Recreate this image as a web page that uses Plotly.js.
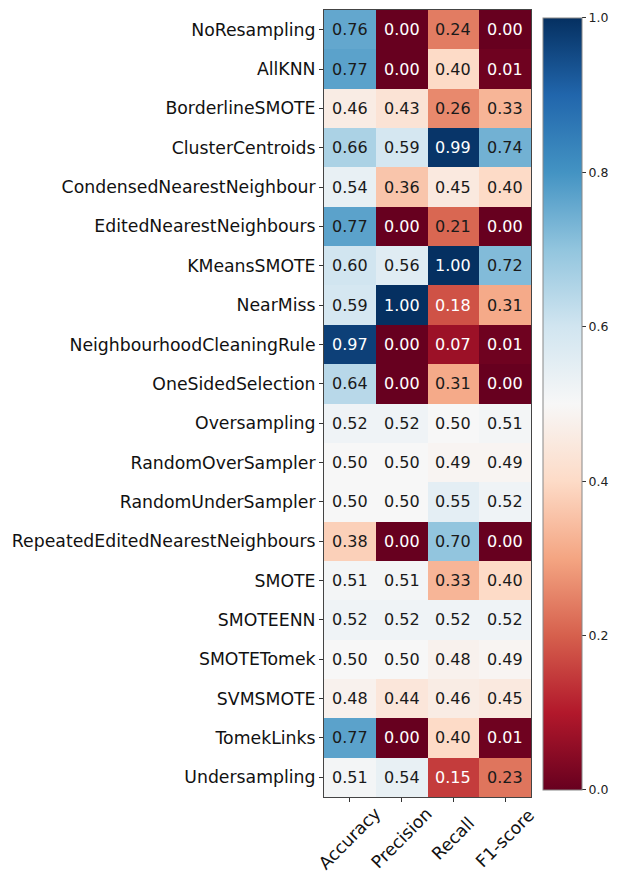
<!DOCTYPE html>
<html>
<head>
<meta charset="utf-8">
<script src="https://cdn.plot.ly/plotly-3.0.1.min.js"></script>
<style>body{margin:0;padding:0;background:#fff;} #chart{width:622px;height:874px;}</style>
</head>
<body>
<div id="chart"></div>
<script>
const methods = ["NoResampling","AllKNN","BorderlineSMOTE","ClusterCentroids","CondensedNearestNeighbour","EditedNearestNeighbours","KMeansSMOTE","NearMiss","NeighbourhoodCleaningRule","OneSidedSelection","Oversampling","RandomOverSampler","RandomUnderSampler","RepeatedEditedNearestNeighbours","SMOTE","SMOTEENN","SMOTETomek","SVMSMOTE","TomekLinks","Undersampling"];
const metrics = ["Accuracy","Precision","Recall","F1-score"];
const accuracy  = [0.76,0.77,0.46,0.66,0.54,0.77,0.60,0.59,0.97,0.64,0.52,0.50,0.50,0.38,0.51,0.52,0.50,0.48,0.77,0.51];
const precision = [0.00,0.00,0.43,0.59,0.36,0.00,0.56,1.00,0.00,0.00,0.52,0.50,0.50,0.00,0.51,0.52,0.50,0.44,0.00,0.54];
const recall    = [0.24,0.40,0.26,0.99,0.45,0.21,1.00,0.18,0.07,0.31,0.50,0.49,0.55,0.70,0.33,0.52,0.48,0.46,0.40,0.15];
const f1score   = [0.00,0.01,0.33,0.74,0.40,0.00,0.72,0.31,0.01,0.00,0.51,0.49,0.52,0.00,0.40,0.52,0.49,0.45,0.01,0.23];
const cbTicks = [0,0.2,0.4,0.6,0.8,1.0];

const cols = [accuracy, precision, recall, f1score];
const z = methods.map((m,i)=>cols.map(c=>c[i]));

const rdbu = ["#67001f","#b2182b","#d6604d","#f4a582","#fddbc7","#f7f7f7","#d1e5f0","#92c5de","#4393c3","#2166ac","#053061"];
const colorscale = rdbu.map((c,i)=>[i/10,c]);

const annotations = [];
methods.forEach((m,i)=>{
  metrics.forEach((k,j)=>{
    const v = z[i][j];
    annotations.push({
      x:k, y:m, xref:'x', yref:'y', text:v.toFixed(2), showarrow:false,
      font:{family:'DejaVu Sans', size:16, color:(v<0.2||v>0.8)?'#ffffff':'#1a1a1a'}
    });
  });
});
// x tick labels: rotated 45°, centred under each tick (matplotlib ha='center')
metrics.forEach(k=>{
  annotations.push({
    x:k, xref:'x', y:-41/787, yref:'paper', text:k, showarrow:false, textangle:-45,
    xanchor:'center', yanchor:'middle',
    font:{family:'DejaVu Sans', size:17.3, color:'#111'}
  });
});

const trace = {
  type:'heatmap', x:metrics, y:methods, z:z, zmin:0, zmax:1,
  colorscale:colorscale, hoverinfo:'none', xgap:0, ygap:0,
  colorbar:{
    x:1+12/207, xanchor:'left', xref:'paper', thickness:39, thicknessmode:'pixels', xpad:0, ypad:0,
    len:772/787, lenmode:'fraction', y:0.4994, yanchor:'middle',
    outlinewidth:1, outlinecolor:'#888',
    tickvals:cbTicks, ticktext:cbTicks.map(t=>t.toFixed(1)),
    ticks:'outside', ticklen:4, tickcolor:'#333',
    tickfont:{family:'DejaVu Sans', size:12.5, color:'#222'}
  }
};

const layout = {
  width:622, height:874,
  margin:{l:324, r:91, t:10, b:77, pad:0, autoexpand:false},
  paper_bgcolor:'#fff', plot_bgcolor:'#fff',
  font:{family:'DejaVu Sans'},
  xaxis:{type:'category', range:[-0.5, metrics.length-0.5], autorange:false,
    ticks:'outside', ticklen:4, tickcolor:'#333', showticklabels:false, automargin:false,
    showline:true, mirror:true, linecolor:'#444', linewidth:1, showgrid:false, zeroline:false, fixedrange:true},
  yaxis:{type:'category', range:[methods.length-0.5, -0.5], autorange:false,
    ticks:'outside', ticklen:4, tickcolor:'#333',
    tickfont:{family:'DejaVu Sans', size:17.3, color:'#111'}, automargin:false,
    showline:true, mirror:true, linecolor:'#444', linewidth:1, showgrid:false, zeroline:false, fixedrange:true},
  annotations:annotations
};

Plotly.newPlot('chart',[trace],layout,{displayModeBar:false, staticPlot:true});
</script>
</body>
</html>
